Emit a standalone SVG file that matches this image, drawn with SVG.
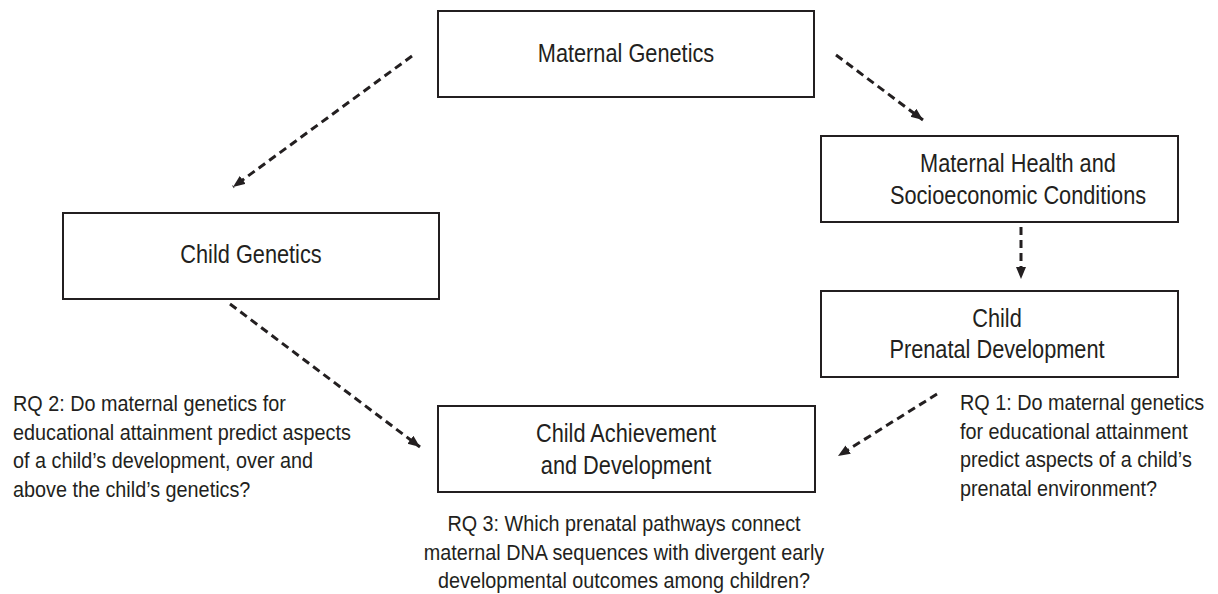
<svg xmlns="http://www.w3.org/2000/svg" width="1218" height="594" viewBox="0 0 1218 594">
<style>
.box{fill:#fff;stroke:#231f20;stroke-width:2}
.t{font-family:"Liberation Sans",Arial,sans-serif;font-size:25px;fill:#231f20;text-anchor:middle}
.q{font-family:"Liberation Sans",Arial,sans-serif;font-size:22.5px;fill:#231f20}
.qc{text-anchor:middle}
.arr{stroke:#231f20;stroke-width:3;stroke-dasharray:8 5;fill:none;marker-end:url(#ah)}
</style>
<defs>
<marker id="ah" markerUnits="userSpaceOnUse" markerWidth="14" markerHeight="12" refX="12" refY="5" orient="auto">
<path d="M0,0 L12,5 L0,10 Z" fill="#231f20"/>
</marker>
</defs>
<rect width="1218" height="594" fill="#fff"/>
<g id="connectors">
<line class="arr" x1="412" y1="56" x2="233" y2="187"/>
<line class="arr" x1="836" y1="55" x2="923" y2="120"/>
<line class="arr" x1="1021" y1="227" x2="1021" y2="279"/>
<line class="arr" x1="230" y1="304" x2="420" y2="447"/>
<line class="arr" x1="937" y1="394" x2="838" y2="456"/>
</g>
<g id="maternal-genetics">
<rect class="box" x="438" y="11" width="376" height="86"/>
<text class="t" transform="translate(626,62) scale(0.87,1)">Maternal Genetics</text>
</g>
<g id="maternal-health">
<rect class="box" x="821" y="136" width="357" height="86"/>
<text class="t" transform="translate(1018,172) scale(0.87,1)"><tspan x="0" y="0">Maternal Health and</tspan><tspan x="0" y="32">Socioeconomic Conditions</tspan></text>
</g>
<g id="child-genetics">
<rect class="box" x="63" y="213" width="376" height="86"/>
<text class="t" transform="translate(251,263) scale(0.87,1)">Child Genetics</text>
</g>
<g id="child-prenatal">
<rect class="box" x="821" y="291" width="357" height="86"/>
<text class="t" transform="translate(997,327) scale(0.87,1)"><tspan x="0" y="0">Child</tspan><tspan x="0" y="31">Prenatal Development</tspan></text>
</g>
<g id="child-achievement">
<rect class="box" x="438" y="406" width="377" height="86"/>
<text class="t" transform="translate(626,442) scale(0.87,1)"><tspan x="0" y="0">Child Achievement</tspan><tspan x="0" y="32">and Development</tspan></text>
</g>
<g id="rq1">
<text class="q" transform="translate(960,410) scale(0.88,1)"><tspan x="0" y="0">RQ 1: Do maternal genetics</tspan><tspan x="0" y="28.7">for educational attainment</tspan><tspan x="0" y="57.4">predict aspects of a child’s</tspan><tspan x="0" y="86.1">prenatal environment?</tspan></text>
</g>
<g id="rq2">
<text class="q" transform="translate(13,411) scale(0.88,1)"><tspan x="0" y="0">RQ 2: Do maternal genetics for</tspan><tspan x="0" y="28.7">educational attainment predict aspects</tspan><tspan x="0" y="57.4">of a child’s development, over and</tspan><tspan x="0" y="86.1">above the child’s genetics?</tspan></text>
</g>
<g id="rq3">
<text class="q qc" transform="translate(624,531) scale(0.88,1)"><tspan x="0" y="0">RQ 3: Which prenatal pathways connect</tspan><tspan x="0" y="28.7">maternal DNA sequences with divergent early</tspan><tspan x="0" y="57.4">developmental outcomes among children?</tspan></text>
</g>
</svg>
